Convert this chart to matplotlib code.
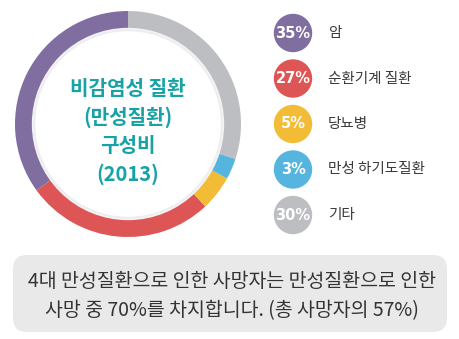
import matplotlib.pyplot as plt
from matplotlib.patches import Circle, FancyBboxPatch

plt.rcParams['font.family'] = ['Noto Sans CJK KR', 'DejaVu Sans']

# data (legend order, pie drawn counter-clockwise from top)
labels = ['암', '순환기계 질환', '당뇨병', '만성 하기도질환', '기타']
shares = [35, 27, 5, 3, 30]
colors = ['#7f6e9f', '#de5555', '#f2bc36', '#56b5df', '#bdbec1']
center_title = '비감염성 질환\n(만성질환)\n구성비\n(2013)'
note = '4대 만성질환으로 인한 사망자는 만성질환으로 인한\n사망 중 70%를 차지합니다. (총 사망자의 57%)'

W, H = 459, 339
fig = plt.figure(figsize=(W / 100, H / 100), dpi=100)
fig.patch.set_facecolor('white')

# overlay axes in pixel coordinates for legend + note box
bg = fig.add_axes([0, 0, 1, 1])
bg.set_xlim(0, W)
bg.set_ylim(H, 0)
bg.axis('off')

# donut
cx, cy, r = 128, 124, 113
pax = fig.add_axes([(cx - r) / W, (H - cy - r) / H, 2 * r / W, 2 * r / H])
pax.pie(shares, colors=colors, startangle=90, counterclock=True,
        radius=1, wedgeprops=dict(width=0.16, edgecolor='none'))
# soft inner shadow + white core
for rr, c in [(0.845, '#f5f2f5'), (0.83, '#ededf0'), (0.815, '#ffffff')]:
    pax.add_patch(Circle((0, 0), rr, color=c, zorder=3))
pax.set_xlim(-1, 1)
pax.set_ylim(-1, 1)
pax.set_aspect('equal')
pax.axis('off')
pax.text(0, -0.07, center_title, ha='center', va='center', fontsize=14.5,
         fontweight='bold', color='#17a3a6', linespacing=1.42, zorder=5)

# legend
for i, (lab, s, c) in enumerate(zip(labels, shares, colors)):
    y = 33 + i * 45.5
    bg.add_patch(Circle((293, y), 18.5, color=c))
    bg.text(293, y, f'{s}%', ha='center', va='center', fontsize=10.5,
            fontweight='bold', color='white', family=['DejaVu Sans'])
    bg.text(328, y, lab, ha='left', va='center', fontsize=10.5,
            fontweight='medium', color='#3a3a3a')

# note box
bg.add_patch(FancyBboxPatch((13 + 14, 255 + 14), 434 - 28, 77 - 28,
                            boxstyle='round,pad=14', facecolor='#e9e9e9',
                            edgecolor='none'))
bg.text(232, 296, note, ha='center', va='center', fontsize=14,
        fontweight='medium', color='#333333', linespacing=1.55)

fig.savefig('out.png', dpi=100, facecolor='white')
